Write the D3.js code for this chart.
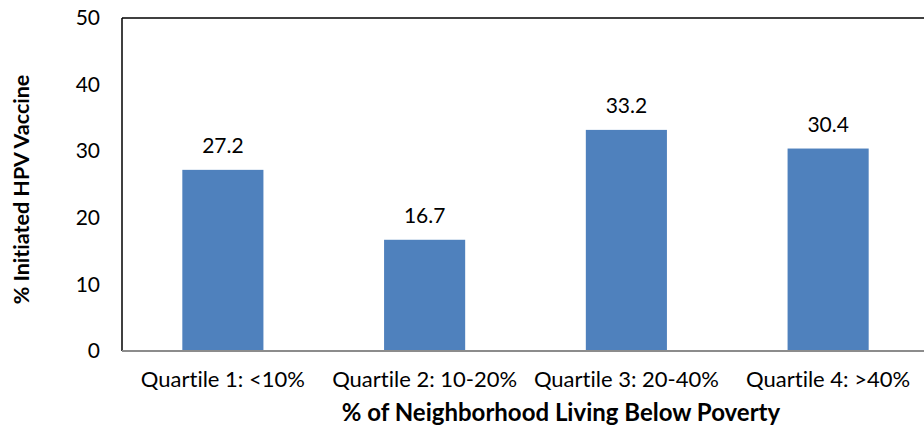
<!DOCTYPE html>
<html><head><meta charset="utf-8">
<script src="https://cdn.jsdelivr.net/npm/d3@7"></script>
<style>body{margin:0;background:#fff}svg{display:block}text{fill:#000;font-variant-ligatures:none;font-feature-settings:"liga" 0}</style>
</head><body><svg id="c" width="924" height="437"></svg>
<script>
const categories = ["Quartile 1: <10%", "Quartile 2: 10-20%", "Quartile 3: 20-40%", "Quartile 4: >40%"];
const values = [27.2, 16.7, 33.2, 30.4];
const yTicks = [0, 10, 20, 30, 40, 50];
const yTitle = "% Initiated HPV Vaccine";
const xTitle = "% of Neighborhood Living Below Poverty";

const tickFont = "Lato, 'Open Sans', sans-serif";
const titleFont = "Lato, 'Open Sans', sans-serif";
const svg = d3.select("#c");
const L = 122, R = 924, T = 18, B = 351;
const x = d3.scaleBand().domain(categories).range([L, 929]).paddingInner(0.598).paddingOuter(0.299);
const y = d3.scaleLinear().domain([0, 50]).range([B, T]);

svg.selectAll("rect.bar").data(values).join("rect")
  .attr("x", (d,i) => x(categories[i])).attr("width", x.bandwidth())
  .attr("y", d => y(d)).attr("height", d => y(0) - y(d))
  .attr("fill", "#4f81bd");

svg.selectAll("text.val").data(values).join("text")
  .attr("x", (d,i) => x(categories[i]) + x.bandwidth()/2)
  .attr("y", d => y(d) - 17)
  .attr("text-anchor", "middle").attr("font-size", 21).style("font-family", tickFont)
  .text(d => d.toFixed(1));

svg.append("line").attr("x1", L).attr("x2", R).attr("y1", T).attr("y2", T).attr("stroke", "#000").attr("stroke-width", 1.5);
svg.append("line").attr("x1", L).attr("x2", L).attr("y1", T).attr("y2", B).attr("stroke", "#000").attr("stroke-width", 1.5);

const yAxis = d3.axisLeft(y).tickValues(yTicks).tickSize(0).tickPadding(22).tickFormat(d3.format("d"));
const gy = svg.append("g").attr("transform", `translate(${L},0)`).call(yAxis);
gy.select(".domain").remove();
gy.selectAll("text").attr("font-size", 21).style("font-family", tickFont).attr("fill", "#000");

const xAxis = d3.axisBottom(x).tickSize(0).tickPadding(20);
const gx = svg.append("g").attr("transform", `translate(0,${B})`).call(xAxis);
gx.select(".domain").attr("stroke", "#8c8c8c").attr("stroke-width", 2).attr("d", `M${L},0H${R}`);
gx.selectAll("text").attr("font-size", 22).style("font-family", tickFont).attr("fill", "#000");

svg.append("text").attr("x", 561).attr("y", 421).attr("text-anchor", "middle")
  .attr("font-size", 24).attr("font-weight", "bold").style("font-family", titleFont).text(xTitle);
svg.append("text").attr("transform", `translate(29,${(T+B)/2 + 5}) rotate(-90)`).attr("text-anchor", "middle")
  .attr("font-size", 21.5).attr("font-weight", "bold").style("font-family", titleFont).text(yTitle);
</script></body></html>
